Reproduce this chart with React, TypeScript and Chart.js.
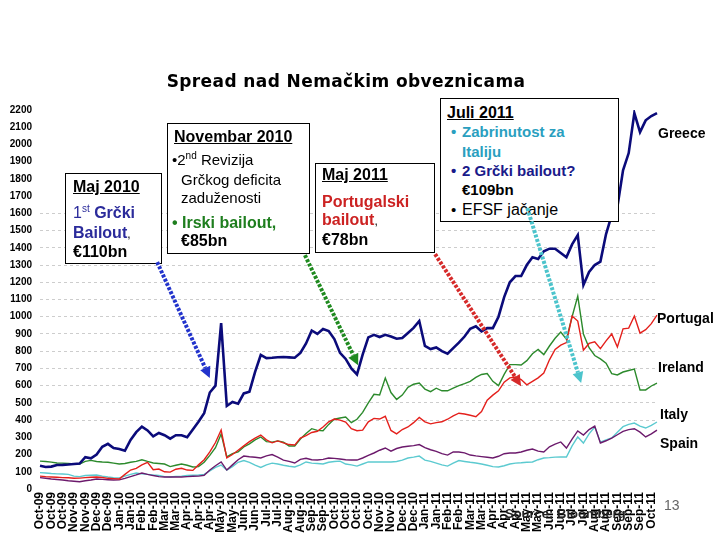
import React, { useEffect, useRef } from "react";
import { Chart, registerables } from "chart.js";

Chart.register(...registerables);

const tickLabels = [
  "Oct-09", "Oct-09", "Oct-09", "Nov-09", "Nov-09", "Dec-09", "Dec-09", "Jan-10", "Jan-10", "Feb-10",
  "Feb-10", "Mar-10", "Mar-10", "Apr-10", "Apr-10", "Apr-10", "May-10", "May-10", "Jun-10", "Jun-10",
  "Jul-10", "Jul-10", "Aug-10", "Aug-10", "Sep-10", "Sep-10", "Oct-10", "Oct-10", "Oct-10", "Oct-10",
  "Nov-10", "Nov-10", "Dec-10", "Dec-10", "Jan-11", "Jan-11", "Feb-11", "Feb-11", "Mar-11", "Mar-11",
  "Apr-11", "Apr-11", "Apr-11", "May-11", "May-11", "Jun-11", "Jun-11", "Jul-11", "Jul-11", "Aug-11",
  "Aug-11", "Sep-11", "Sep-11", "Sep-11", "Oct-11",
];

const greece = [
  135, 128, 130, 139, 140, 142, 145, 148, 185, 178,
  200, 245, 262, 238, 232, 222, 285, 330, 362, 340,
  305, 325, 312, 292, 312, 312, 300, 345, 390, 440,
  560, 600, 963, 482, 505, 495, 555, 565, 680, 778,
  760, 762, 765, 766, 764, 762, 790, 845, 920, 900,
  929, 917, 870, 790, 755, 700, 665, 780, 880, 895,
  882, 895, 885, 872, 876, 905, 935, 975, 830, 812,
  822, 800, 785, 818, 850, 885, 930, 945, 915, 934,
  934, 1000, 1114, 1200, 1236, 1236, 1300, 1345, 1335, 1380,
  1395, 1395, 1370, 1345, 1420, 1474, 1184, 1260, 1300, 1320,
  1480, 1590, 1637, 1850, 1950, 2182, 2072, 2140, 2165, 2182,
];

const ireland = [
  162, 160, 156, 151, 150, 148, 146, 145, 160, 166,
  160, 157, 155, 150, 145, 148, 155, 160, 170, 160,
  151, 148, 145, 130, 138, 145, 138, 128, 130, 155,
  195, 240, 319, 186, 205, 215, 244, 262, 285, 302,
  275, 272, 279, 272, 250, 250, 290, 322, 350, 340,
  338, 375, 406, 412, 418, 385, 405, 445, 500, 550,
  546, 644, 560, 520, 545, 590, 608, 615, 580, 565,
  585, 570, 570, 585, 600, 612, 625, 648, 665, 670,
  625, 600, 665, 722, 722, 720, 745, 785, 810, 780,
  830, 875, 911, 870, 1000, 1120, 900, 820, 775, 755,
  730, 670, 662, 679, 688, 696, 575, 575, 598, 615,
];

const portugal = [
  75, 72, 70, 68, 66, 65, 62, 63, 66, 68,
  70, 67, 62, 60, 58, 85, 110, 120, 140, 155,
  112, 116, 100, 98, 115, 120, 110, 108, 140, 170,
  215, 270, 342, 180, 200, 225, 250, 275, 295, 313,
  285, 268, 279, 268, 258, 255, 295, 310, 328, 335,
  360, 390, 406, 400, 389, 350, 338, 342, 390, 410,
  406, 422, 340, 320, 345, 360, 385, 415, 390, 378,
  385, 390, 405, 425, 440, 435, 428, 420, 450, 515,
  545, 570, 620, 645, 650, 635, 605, 625, 645, 673,
  750, 810, 835, 850, 1004, 975, 806, 845, 855, 815,
  860, 900, 824, 930, 934, 1004, 905, 925, 960, 1009,
];

const italy = [
  95, 93, 90, 88, 87, 85, 75, 72, 78, 80,
  81, 75, 70, 66, 64, 75, 85, 93, 88, 85,
  81, 78, 72, 70, 73, 75, 78, 80, 81, 85,
  105, 125, 139, 110, 130, 155, 165, 155, 138, 125,
  140, 150, 145, 138, 132, 128, 140, 157, 150, 148,
  145, 155, 160, 162, 145, 140, 133, 145, 157, 157,
  157, 157, 157, 160, 168, 180, 185, 191, 168, 160,
  150, 140, 133, 150, 165, 160, 155, 151, 145, 138,
  130, 128, 135, 145, 150, 152, 155, 157, 170, 180,
  182, 185, 186, 186, 250, 302, 267, 320, 360, 272,
  285, 296, 330, 362, 375, 383, 365, 354, 370, 389,
];

const spain = [
  66, 62, 58, 55, 52, 48, 45, 42, 48, 52,
  58, 56, 54, 52, 53, 62, 72, 82, 93, 85,
  78, 72, 70, 70, 70, 70, 72, 74, 75, 80,
  110, 135, 157, 110, 140, 170, 191, 187, 184, 180,
  192, 200, 185, 168, 160, 151, 172, 178, 170, 168,
  172, 180, 178, 174, 170, 168, 168, 180, 195, 209,
  225, 238, 220, 235, 244, 248, 252, 258, 240, 228,
  218, 205, 197, 215, 215, 210, 197, 192, 188, 184,
  180, 190, 205, 209, 209, 215, 225, 232, 220, 215,
  245, 260, 273, 238, 290, 337, 313, 345, 365, 267,
  280, 295, 315, 335, 345, 350, 330, 302, 320, 342,
];

// arrows in data coordinates: [category index, spread value]
const arrowSpecs = [
  { color: "#2233cc", from: [20.7, 1317], to: [30.0, 644] },
  { color: "#1f8a1f", from: [46.8, 1357], to: [56.2, 719] },
  { color: "#d62a2a", from: [69.8, 1363], to: [85.0, 597] },
  { color: "#4cc4cc", from: [86.1, 1630], to: [95.6, 615] },
];

const weekLabels: string[] = greece.map((_, i) => (i % 2 === 0 ? tickLabels[i / 2] ?? "" : ""));

const FONT = '"Liberation Sans", Arial, sans-serif';

function drawArrow(ctx: CanvasRenderingContext2D, x1: number, y1: number, x2: number, y2: number, color: string) {
  const dx = x2 - x1;
  const dy = y2 - y1;
  const len = Math.hypot(dx, dy);
  const ux = dx / len;
  const uy = dy / len;
  const head = 11;
  const hw = 5.5;
  const bx = x2 - ux * head;
  const by = y2 - uy * head;
  ctx.save();
  ctx.strokeStyle = color;
  ctx.lineWidth = 4;
  ctx.lineCap = "butt";
  ctx.setLineDash([3, 1.6]);
  ctx.beginPath();
  ctx.moveTo(x1, y1);
  ctx.lineTo(bx, by);
  ctx.stroke();
  ctx.setLineDash([]);
  ctx.fillStyle = color;
  ctx.beginPath();
  ctx.moveTo(x2, y2);
  ctx.lineTo(bx - uy * hw, by + ux * hw);
  ctx.lineTo(bx + uy * hw, by - ux * hw);
  ctx.closePath();
  ctx.fill();
  ctx.restore();
}

type TProps = {
  x: number;
  y: number;
  size?: number;
  bold?: boolean;
  color?: string;
  underline?: boolean;
  children?: React.ReactNode;
  family?: string;
};

function T({ x, y, size = 16, bold = false, color = "#000", underline = false, children, family }: TProps) {
  return (
    <div
      style={{
        position: "absolute",
        left: x,
        top: y - 10,
        height: 20,
        lineHeight: "20px",
        fontSize: size,
        fontWeight: bold ? 700 : 400,
        color,
        textDecoration: underline ? "underline" : "none",
        whiteSpace: "nowrap",
        fontFamily: family || FONT,
        zIndex: 2,
      }}
    >
      {children}
    </div>
  );
}

function Box({ l, t, w, h }: { l: number; t: number; w: number; h: number }) {
  return (
    <div
      style={{
        position: "absolute",
        left: l,
        top: t,
        width: w,
        height: h,
        border: "1px solid #000",
        background: "#fff",
        boxSizing: "border-box",
        zIndex: 1,
      }}
    />
  );
}

const sup: React.CSSProperties = { fontSize: 10, verticalAlign: "super", lineHeight: 0 };

export default function App() {
  const canvasRef = useRef<HTMLCanvasElement>(null);
  const overlayRef = useRef<HTMLCanvasElement>(null);

  useEffect(() => {
    if (!canvasRef.current) return;
    const arrowPlugin = {
      id: "arrowOverlay",
      afterDraw(chart: any) {
        const ov = overlayRef.current;
        if (!ov) return;
        const ctx = ov.getContext("2d");
        if (!ctx) return;
        ctx.clearRect(0, 0, ov.width, ov.height);
        const xs = chart.scales.x;
        const ys = chart.scales.y;
        for (const a of arrowSpecs) {
          drawArrow(
            ctx,
            xs.getPixelForValue(a.from[0]),
            ys.getPixelForValue(a.from[1]),
            xs.getPixelForValue(a.to[0]),
            ys.getPixelForValue(a.to[1]),
            a.color
          );
        }
      },
    };

    const chart = new Chart(canvasRef.current, {
      type: "line",
      data: {
        labels: weekLabels,
        datasets: [
          { label: "Greece", data: greece, borderColor: "#0b0b7a", borderWidth: 2.6 },
          { label: "Portugal", data: portugal, borderColor: "#e4201c", borderWidth: 1.4 },
          { label: "Ireland", data: ireland, borderColor: "#2c8a2c", borderWidth: 1.4 },
          { label: "Spain", data: spain, borderColor: "#6c1a6c", borderWidth: 1.4 },
          { label: "Italy", data: italy, borderColor: "#5ccad0", borderWidth: 1.4 },
        ].map((d) => ({ ...d, pointRadius: 0, tension: 0, fill: false })),
      },
      options: {
        animation: false,
        responsive: false,
        devicePixelRatio: 1,
        layout: { padding: { left: 0, right: 63, top: 110, bottom: 0 } },
        plugins: { legend: { display: false }, tooltip: { enabled: false }, title: { display: false } },
        scales: {
          x: {
            type: "category",
            offset: false,
            grid: { display: false, drawTicks: false },
            border: { display: false },
            ticks: {
              autoSkip: false,
              minRotation: 90,
              maxRotation: 90,
              padding: 3,
              color: "#000",
              font: { family: FONT, size: 12, weight: "bold" },
            },
            afterFit: (s: any) => {
              s.height = 51;
            },
          },
          y: {
            min: 0,
            max: 2200,
            grid: {
              drawTicks: false,
              lineWidth: 1,
              color: (c: any) => {
                const v = c.tick ? c.tick.value : -1;
                return v >= 400 && v <= 1600 ? "#cdcdcd" : "rgba(0,0,0,0)";
              },
            },
            border: { display: false, dash: [3, 3] },
            ticks: {
              stepSize: 100,
              maxTicksLimit: 40,
              autoSkip: false,
              padding: 8,
              color: "#000",
              font: { family: FONT, size: 10, weight: "bold" },
              callback: (v: any) => String(v),
            },
            afterFit: (s: any) => {
              s.width = 40;
            },
          },
        },
      },
      plugins: [arrowPlugin],
    } as any);
    return () => chart.destroy();
  }, []);

  return (
    <div
      style={{
        position: "absolute",
        left: 0,
        top: 0,
        width: 720,
        height: 540,
        background: "#fff",
        overflow: "hidden",
        fontFamily: FONT,
      }}
    >
      <canvas
        ref={canvasRef}
        width={720}
        height={540}
        style={{ position: "absolute", left: 0, top: 0, width: 720, height: 540, zIndex: 0 }}
      />

      <div
        style={{
          position: "absolute",
          left: 0,
          width: 692,
          top: 70,
          lineHeight: "22px",
          textAlign: "center",
          fontFamily: '"DejaVu Sans", Verdana, sans-serif',
          fontWeight: 700,
          fontSize: 17,
          letterSpacing: 0.4,
          color: "#000",
        }}
      >
        Spread nad Nemačkim obveznicama
      </div>

      {/* Maj 2010 */}
      <Box l={65} t={173} w={97} h={91} />
      <T x={73} y={187} bold underline>Maj 2010</T>
      <T x={73} y={213} color="#2b2b9b">
        1<span style={sup}>st</span> <b>Grčki</b>
      </T>
      <T x={73} y={233} color="#2b2b9b" bold>
        Bailout<span style={{ color: "#000", fontWeight: 400, fontSize: 12 }}>,</span>
      </T>
      <T x={73} y={252} bold>€110bn</T>

      {/* Novembar 2010 */}
      <Box l={167} t={123} w={143} h={131} />
      <T x={174} y={137} bold underline>Novembar 2010</T>
      <T x={172} y={160} size={15}>
        •2<span style={sup}>nd</span> Revizija
      </T>
      <T x={181} y={180} size={15}>Grčkog deficita</T>
      <T x={181} y={198} size={15}>zaduženosti</T>
      <T x={172} y={223} bold color="#1e7e1e">• Irski bailout,</T>
      <T x={181} y={241} bold>€85bn</T>

      {/* Maj 2011 */}
      <Box l={315} t={163} w={120} h={90} />
      <T x={322} y={175} bold underline>Maj 2011</T>
      <T x={322} y={202} bold color="#cc2222">Portugalski</T>
      <T x={322} y={220} bold color="#cc2222">
        bailout<span style={{ color: "#000", fontWeight: 400, fontSize: 12 }}>,</span>
      </T>
      <T x={322} y={240} bold>€78bn</T>

      {/* Juli 2011 */}
      <Box l={440} t={98} w={179} h={124} />
      <T x={447} y={113} bold underline>Juli 2011</T>
      <T x={451} y={132} size={15} bold color="#2a9fbf">•</T>
      <T x={462} y={132} size={15} bold color="#2a9fbf">Zabrinutost za</T>
      <T x={462} y={152} size={15} bold color="#2a9fbf">Italiju</T>
      <T x={451} y={171} size={15} bold color="#1a1a8a">•</T>
      <T x={462} y={171} size={15} bold color="#1a1a8a">2 Grčki bailout?</T>
      <T x={462} y={190} size={15} bold>€109bn</T>
      <T x={451} y={210} size={15}>•</T>
      <T x={462} y={210}>EFSF jačanje</T>

      {/* series names */}
      <T x={658} y={133} size={14} bold>Greece</T>
      <T x={657} y={318} size={14} bold>Portugal</T>
      <T x={658} y={367} size={14} bold>Ireland</T>
      <T x={660} y={414} size={14} bold>Italy</T>
      <T x={660} y={443} size={14} bold>Spain</T>

      <T x={505} y={514} size={13} bold color="#222">Source: Bloomberg</T>
      <T x={664} y={505} size={14} color="#666">13</T>

      <canvas
        ref={overlayRef}
        width={720}
        height={540}
        style={{ position: "absolute", left: 0, top: 0, width: 720, height: 540, zIndex: 3, pointerEvents: "none" }}
      />
    </div>
  );
}
